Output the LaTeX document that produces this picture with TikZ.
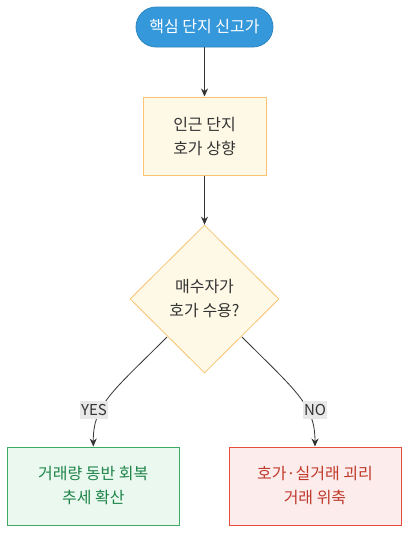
\documentclass[tikz,border=0pt]{standalone}
\usepackage{fontspec}
\setmainfont{Noto Sans CJK KR}
\usetikzlibrary{shapes.geometric,arrows.meta}
\definecolor{pillfill}{HTML}{3498DB}
\definecolor{pilldraw}{HTML}{2E86C1}
\definecolor{ylfill}{HTML}{FEF9E7}
\definecolor{yldraw}{HTML}{F8C471}
\definecolor{grfill}{HTML}{EAF8EF}
\definecolor{grdraw}{HTML}{3DAA63}
\definecolor{grtext}{HTML}{1E8449}
\definecolor{rdfill}{HTML}{FDECEC}
\definecolor{rddraw}{HTML}{E74C3C}
\definecolor{rdtext}{HTML}{C0392B}
\definecolor{txt}{HTML}{333333}
\definecolor{lblbg}{HTML}{E8E8E8}
\tikzset{
  x=1pt,y=-1pt,
  basefont/.style={font=\fontsize{16}{24}\selectfont, align=center, inner sep=0pt},
  pill/.style={basefont, rounded corners=20pt, fill=pillfill, draw=pilldraw, line width=0.8pt, text=white, minimum width=137pt, minimum height=40pt},
  ybox/.style={basefont, fill=ylfill, draw=yldraw, line width=1pt, text=txt, minimum width=123pt, minimum height=78pt},
  ydia/.style={basefont, diamond, fill=ylfill, draw=yldraw, line width=0.8pt, text=txt, minimum width=149pt, minimum height=148pt},
  gbox/.style={basefont, fill=grfill, draw=grdraw, line width=1pt, text=grtext, minimum width=172pt, minimum height=78pt},
  rbox/.style={basefont, fill=rdfill, draw=rddraw, line width=1pt, text=rdtext, minimum width=172pt, minimum height=78pt},
  conn/.style={draw=txt, line width=0.8pt, -{Stealth[length=8pt,width=7pt]}},
  elabel/.style={font=\fontsize{15}{16}\selectfont, fill=lblbg, text=txt, inner xsep=1pt, inner ysep=3pt}
}
\begin{document}
\begin{tikzpicture}
\useasboundingbox[fill=white] (0,0) rectangle (409,533);
\node[pill] (start) at (204.5,27) {핵심 단지 신고가};
\node[ybox] (raise) at (204.5,136) {인근 단지\\호가 상향};
\node[ydia] (dec) at (204.5,299) {매수자가\\호가 수용?};
\node[gbox] (yes) at (93.3,486) {거래량 동반 회복\\추세 확산};
\node[rbox] (no) at (315,486) {호가·실거래 괴리\\거래 위축};
\coordinate (ls) at (167,337);
\coordinate (rs) at (242,337);
\draw[conn] (start) -- (raise);
\draw[conn] (raise) -- (dec);
\draw[conn] (ls) .. controls (112,392) and (93,405) .. (yes.north);
\draw[conn] (rs) .. controls (297,392) and (315,405) .. (no.north);
\node[elabel] (ylab) at (94,410) {YES};
\node[elabel] (nlab) at (315,410) {NO};
\end{tikzpicture}
\end{document}
